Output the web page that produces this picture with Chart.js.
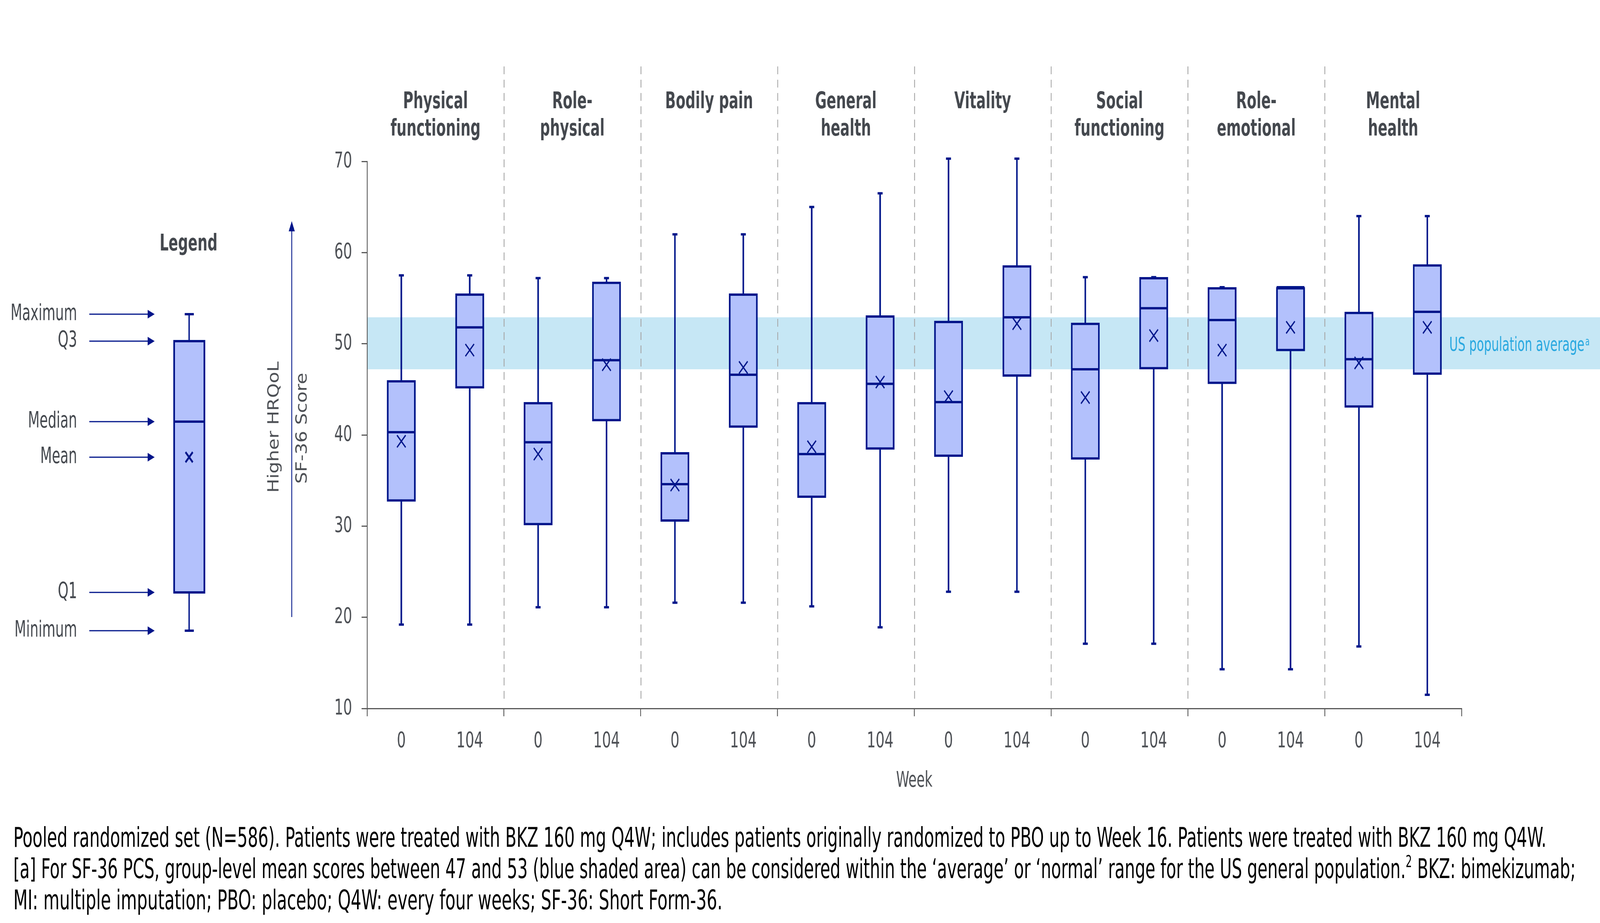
<!DOCTYPE html>
<html>
<head>
<meta charset="utf-8">
<script src="https://cdn.jsdelivr.net/npm/chart.js@4.4.1/dist/chart.umd.min.js"></script>
<style>
html,body{margin:0;padding:0;background:#fff;overflow:hidden;}
#wrap{position:absolute;left:0;top:0;width:5753px;height:2362px;overflow:hidden;background:#fff;transform-origin:0 0;}
#c{position:absolute;left:0;top:0;width:5753px;height:2362px;}
.fn{position:absolute;left:48px;white-space:nowrap;color:#000;font-size:69px;line-height:69px;transform-origin:0 0;}
.fn sup{font-size:42px;line-height:0;vertical-align:0;position:relative;top:-28px;}
</style>
</head>
<body>
<div id="wrap">
<canvas id="c" width="5753" height="2362"></canvas>
<div class="fn" id="fn1">Pooled randomized set (N=586). Patients were treated with BKZ 160 mg Q4W; includes patients originally randomized to PBO up to Week 16. Patients were treated with BKZ 160 mg Q4W.</div>
<div class="fn" id="fn2">[a] For SF-36 PCS, group-level mean scores between 47 and 53 (blue shaded area) can be considered within the ‘average’ or ‘normal’ range for the US general population.<sup>2</sup> BKZ: bimekizumab;</div>
<div class="fn" id="fn3">MI: multiple imputation; PBO: placebo; Q4W: every four weeks; SF-36: Short Form-36.</div>
</div>
<script>
// ---------------- DATA ----------------
const domains = [
  ['Physical', 'functioning'],
  ['Role-', 'physical'],
  ['Bodily pain'],
  ['General', 'health'],
  ['Vitality'],
  ['Social', 'functioning'],
  ['Role-', 'emotional'],
  ['Mental', 'health']
];
const weekLabels = ['0','104','0','104','0','104','0','104','0','104','0','104','0','104','0','104'];
const minimum = [19.2, 19.2, 21.1, 21.1, 21.6, 21.6, 21.2, 18.9, 22.8, 22.8, 17.1, 17.1, 14.3, 14.3, 16.8, 11.5];
const q1      = [32.7, 45.1, 30.1, 41.5, 30.5, 40.8, 33.1, 38.4, 37.6, 46.4, 37.3, 47.2, 45.6, 49.2, 43.0, 46.6];
const median  = [40.3, 51.8, 39.2, 48.2, 34.6, 46.6, 37.9, 45.6, 43.6, 52.9, 47.2, 53.9, 52.6, 56.2, 48.3, 53.5];
const mean    = [39.3, 49.3, 37.9, 47.7, 34.5, 47.4, 38.7, 45.8, 44.2, 52.2, 44.1, 50.9, 49.3, 51.8, 47.9, 51.8];
const q3      = [46.0, 55.5, 43.6, 56.8, 38.1, 55.5, 43.6, 53.1, 52.5, 58.6, 52.3, 57.3, 56.2, 56.2, 53.5, 58.7];
const maximum = [57.5, 57.5, 57.2, 57.2, 62.0, 62.0, 65.0, 66.5, 70.3, 70.3, 57.3, 57.3, 56.2, 56.2, 64.0, 64.0];
const yTicks = [10, 20, 30, 40, 50, 60, 70];
const bandLow = 47.2, bandHigh = 52.9;

// ---------------- FIT PAGE TO WINDOW ----------------
(function(){
  const sx = window.innerWidth / 5753, sy = window.innerHeight / 2362;
  document.getElementById('wrap').style.transform = 'scale(' + sx + ',' + sy + ')';
})();

// ---------------- STYLE ----------------
const NAVY = '#00158A', FILL = '#B3C1FC', BAND = '#C6E7F5', SEP = '#A6A6A6';
const AXIS = '#595959', TEXT = '#44484E', TICK = '#4D5055', CYAN = '#29A8E0';

const probe = document.createElement('canvas').getContext('2d');
function hasFont(name){
  const s = 'Maximum Wgil 104 functioning';
  probe.font = '60px "' + name + '", monospace'; const a = probe.measureText(s).width;
  probe.font = '60px monospace'; const b = probe.measureText(s).width;
  return Math.abs(a - b) > 0.5;
}
const FAM = hasFont('DejaVu Sans Condensed') ? '"DejaVu Sans Condensed", "DejaVu Sans", sans-serif'
          : (hasFont('Lato') ? 'Lato, sans-serif' : '"DejaVu Sans", sans-serif');

// footnote placement: each line fitted to the width it has in the original
let SX = 1;
(function(){
  probe.font = '69px ' + FAM;
  const m = probe.measureText('Pooled');
  const asc = m.fontBoundingBoxAscent, desc = m.fontBoundingBoxDescent;
  const half = (69 - (asc + desc)) / 2;
  const baselines = [2167, 2247, 2327];
  const widths = [5512, 5618, 2550];
  ['fn1','fn2','fn3'].forEach((id, i) => {
    const el = document.getElementById(id);
    el.style.fontFamily = FAM;
    el.style.top = (baselines[i] - half - asc) + 'px';
    const k = Math.max(0.6, Math.min(1.3, widths[i] / el.offsetWidth));
    if (i === 0) SX = k;
    el.style.transform = 'scaleX(' + k + ')';
  });
})();

function txt(ctx, s, x, y, o){
  o = o || {};
  ctx.save();
  ctx.translate(x, y);
  if (o.rot) ctx.rotate(o.rot);
  ctx.scale(SX, 1);
  ctx.font = (o.weight || 'normal') + ' ' + (o.size || 56) + 'px ' + FAM;
  ctx.fillStyle = o.color || TEXT;
  ctx.textAlign = o.align || 'left';
  ctx.textBaseline = o.base || 'middle';
  ctx.fillText(s, 0, 0);
  ctx.restore();
}
function arrowRight(ctx, x1, x2, y){
  ctx.save();
  ctx.strokeStyle = NAVY; ctx.fillStyle = NAVY; ctx.lineWidth = 3;
  ctx.beginPath(); ctx.moveTo(x1, y); ctx.lineTo(x2 - 20, y); ctx.stroke();
  ctx.beginPath(); ctx.moveTo(x2, y); ctx.lineTo(x2 - 25, y - 11); ctx.lineTo(x2 - 25, y + 11); ctx.closePath(); ctx.fill();
  ctx.restore();
}

const deco = {
  id: 'deco',
  beforeDraw(chart){
    const {ctx, chartArea: a, scales: {x, y}} = chart;
    ctx.save();
    const yt = y.getPixelForValue(bandHigh), yb = y.getPixelForValue(bandLow);
    ctx.fillStyle = BAND;
    ctx.fillRect(a.left, yt, chart.width - a.left, yb - yt);
    ctx.strokeStyle = SEP; ctx.lineWidth = 3; ctx.setLineDash([20, 14]);
    for (let k = 1; k < domains.length; k++){
      const xp = Math.round((x.getPixelForValue(2*k-1) + x.getPixelForValue(2*k)) / 2) + 0.5;
      ctx.beginPath(); ctx.moveTo(xp, 170); ctx.lineTo(xp, a.bottom - 12); ctx.stroke();
    }
    ctx.restore();
  },
  afterDraw(chart){
    const {ctx, chartArea: a, scales: {x, y}} = chart;
    // panel titles
    domains.forEach((lines, k) => {
      const xc = (x.getPixelForValue(2*k) + x.getPixelForValue(2*k+1)) / 2;
      lines.forEach((t, j) => txt(ctx, t, xc, 262 + j*70, {weight:'bold', size:59, align:'center'}));
    });
    // band label
    txt(ctx, 'US population average', 5211, 898, {size:50, color:CYAN, base:'alphabetic'});
    ctx.save(); ctx.font = '50px ' + FAM;
    const wUS = ctx.measureText('US population average').width * SX; ctx.restore();
    txt(ctx, 'a', 5211 + wUS + 3, 884, {size:30, color:CYAN, base:'alphabetic'});
    // axis titles
    txt(ctx, 'Week', (a.left + a.right) / 2, 1998, {size:56, align:'center', color:TICK});
    txt(ctx, 'SF-36 Score', 1087, 1096, {size:56, align:'center', rot:-Math.PI/2, color:TICK});
    txt(ctx, 'Higher HRQoL', 986, 1093, {size:56, align:'center', rot:-Math.PI/2, color:TICK});
    // vertical arrow
    ctx.save();
    ctx.strokeStyle = NAVY; ctx.fillStyle = NAVY; ctx.lineWidth = 3;
    ctx.beginPath(); ctx.moveTo(1049, 1579); ctx.lineTo(1049, 588); ctx.stroke();
    ctx.beginPath(); ctx.moveTo(1049, 566); ctx.lineTo(1038, 592); ctx.lineTo(1060, 592); ctx.closePath(); ctx.fill();
    ctx.restore();
    // legend illustration
    txt(ctx, 'Legend', 678, 626, {weight:'bold', size:59, align:'center'});
    const legRows = [['Maximum', 804], ['Q3', 873], ['Median', 1079], ['Mean', 1170], ['Q1', 1516], ['Minimum', 1614]];
    legRows.forEach(([t, yy]) => { txt(ctx, t, 277, yy, {size:57, align:'right'}); arrowRight(ctx, 321, 556, yy); });
    ctx.save();
    ctx.strokeStyle = NAVY; ctx.fillStyle = NAVY;
    ctx.lineWidth = 5;
    ctx.beginPath(); ctx.moveTo(680, 804); ctx.lineTo(680, 873); ctx.moveTo(680, 1516); ctx.lineTo(680, 1614); ctx.stroke();
    ctx.lineWidth = 6;
    ctx.beginPath(); ctx.moveTo(664, 804); ctx.lineTo(697, 804); ctx.moveTo(664, 1614); ctx.lineTo(697, 1614); ctx.stroke();
    ctx.fillStyle = FILL; ctx.fillRect(623, 870, 115, 649);
    ctx.strokeRect(626, 873, 109, 643);
    ctx.beginPath(); ctx.moveTo(626, 1079); ctx.lineTo(735, 1079); ctx.stroke();
    ctx.beginPath(); ctx.moveTo(667, 1157); ctx.lineTo(693, 1183); ctx.moveTo(693, 1157); ctx.lineTo(667, 1183); ctx.stroke();
    ctx.restore();
  }
};

const tickFont = {family: FAM, size: 56};
new Chart(document.getElementById('c'), {
  type: 'bar',
  data: {
    labels: weekLabels,
    datasets: [
      {type:'line', label:'Mean', data: mean, showLine:false, pointStyle:'crossRot', pointRadius:22,
       pointBorderWidth:4, pointBorderColor:NAVY, pointBackgroundColor:NAVY, order:1, clip:false},
      {type:'line', label:'Median', data: median, showLine:false, pointStyle:'line', pointRadius:50,
       pointBorderWidth:6, pointBorderColor:NAVY, order:2, clip:false},
      {type:'line', label:'Maximum', data: maximum, showLine:false, pointStyle:'line', pointRadius:9,
       pointBorderWidth:6, pointBorderColor:NAVY, order:3, clip:false},
      {type:'line', label:'Minimum', data: minimum, showLine:false, pointStyle:'line', pointRadius:9,
       pointBorderWidth:6, pointBorderColor:NAVY, order:3, clip:false},
      {type:'bar', label:'Q1–Q3', data: q1.map((v, i) => [v, q3[i]]), backgroundColor:FILL, borderColor:NAVY,
       borderWidth:6, borderSkipped:false, barThickness:103, grouped:false, order:4, clip:false},
      {type:'bar', label:'Min–Max', data: minimum.map((v, i) => [v, maximum[i]]), backgroundColor:NAVY,
       borderWidth:0, barThickness:5, grouped:false, order:5, clip:false}
    ]
  },
  options: {
    responsive:false, animation:false, devicePixelRatio:1, events:[],
    layout:{padding:{left:1000, right:498, top:413, bottom:0}},
    plugins:{legend:{display:false}, tooltip:{enabled:false}, title:{display:false}},
    scales:{
      x:{
        type:'category', offset:true,
        grid:{display:true, drawOnChartArea:false, drawTicks:true, tickLength:20, lineWidth:3, offset:true,
              color: c => (c.index === undefined || c.index % 2 === 0) ? AXIS : 'rgba(0,0,0,0)'},
        border:{display:true, color:AXIS, width:3},
        ticks:{color:TICK, font:tickFont, padding:31, autoSkip:false, maxRotation:0},
        afterFit: s => { s.height = 549; }
      },
      y:{
        min:10, max:70,
        afterBuildTicks: s => { s.ticks = yTicks.map(v => ({value:v})); },
        grid:{display:true, drawOnChartArea:false, drawTicks:true, tickLength:20, lineWidth:3, color:AXIS},
        border:{display:true, color:AXIS, width:3},
        ticks:{color:TICK, font:tickFont, padding:34},
        afterFit: s => { s.width = 320; }
      }
    }
  },
  plugins:[deco]
});
</script>
</body>
</html>
